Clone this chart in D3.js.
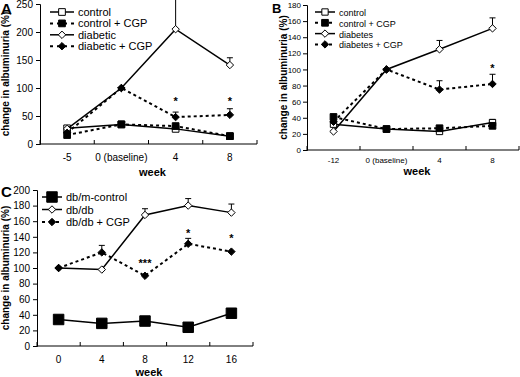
<!DOCTYPE html>
<html>
<head>
<meta charset="utf-8">
<script src="https://cdn.jsdelivr.net/npm/d3@7"></script>
<style>
  body { margin: 0; background: #fff; }
  text { font-family: "Liberation Sans", Arial, sans-serif; }
</style>
</head>
<body>
<div id="chart"></div>
<script>
// panel A
var weeksA = ["-5", "0 (baseline)", "4", "8"];
var controlA = [28, 35, 27, 14];
var controlCgpA = [16, 35, 32, 14];
var diabeticA = [27, 100, 205, 141];
var diabeticErrA = [null, null, 270, 154];
var diabeticCgpA = [20, 100, 48, 52];
var diabeticCgpErrA = [null, null, 57, 63];
var starsA = [null, null, "*", "*"];

// panel B
var weeksB = ["-12", "0 (baseline)", "4", "8"];
var controlB = [32, 26, 23, 34];
var controlErrB = [null, null, null, 38];
var controlCgpB = [41, 26, 27, 30];
var diabetesB = [23, 100, 125, 151];
var diabetesErrB = [null, null, 136, 164];
var diabetesCgpB = [35, 100, 75, 82];
var diabetesCgpErrB = [null, null, 86, 94];
var starsB = [null, null, null, "*"];

// panel C
var weeksC = ["0", "4", "8", "12", "16"];
var dbmC = [34, 29, 32, 24, 42];
var dbdbC = [100, 98, 168, 180, 171];
var dbdbErrC = [null, null, 176, 189, 182];
var dbdbCgpC = [100, 120, 90, 131, 121];
var dbdbCgpErrC = [null, 129, null, 138, null];
var starsC = [null, null, "***", "*", "*"];

var svg = d3.select("#chart").append("svg")
  .attr("width", 520)
  .attr("height", 377);

function symbolFor(shape, size) {
  var type = shape == "square" ? d3.symbolSquare : d3.symbolDiamond2;
  return d3.symbol().type(type).size(size);
}

function drawPanel(p) {
  var g = svg.append("g");
  var x = d3.scaleBand().domain(p.cats).range([p.x0, p.x1]);
  var y = d3.scaleLinear().domain([0, p.ymax]).range([p.y0, p.y1]);
  var cx = function(i) { return x(p.cats[i]) + x.bandwidth() / 2; };

  // y axis
  var ya = g.append("g")
    .attr("transform", "translate(" + p.x0 + ",0)")
    .call(d3.axisLeft(y).tickValues(d3.range(0, p.ymax + 1, p.step)).tickSize(4).tickPadding(p.tickPad));
  ya.select(".domain").attr("stroke", "#000");
  ya.selectAll("text").attr("font-size", p.tickFont).attr("fill", "#000");

  // x axis, ticks point up between categories
  var xa = g.append("g").attr("transform", "translate(0," + p.y0 + ")");
  xa.append("line").attr("x1", p.x0).attr("x2", p.x1).attr("stroke", "#000");
  xa.selectAll(".tk").data(d3.range(p.cats.length + 1)).enter().append("line")
    .attr("x1", function(i) { return p.x0 + i * x.step(); })
    .attr("x2", function(i) { return p.x0 + i * x.step(); })
    .attr("y1", 0).attr("y2", -4).attr("stroke", "#000");
  xa.selectAll(".lb").data(p.cats).enter().append("text")
    .attr("x", function(d, i) { return cx(i); })
    .attr("y", p.tickY)
    .attr("text-anchor", "middle")
    .attr("font-size", p.tickFont)
    .text(function(d) { return d; });

  g.append("text")
    .attr("x", (p.x0 + p.x1) / 2 + 4).attr("y", p.y0 + p.weekDy)
    .attr("text-anchor", "middle").attr("font-weight", "bold").attr("font-size", 11)
    .text("week");

  g.append("text")
    .attr("transform", "translate(" + p.ylabX + "," + (p.y0 + p.y1) / 2 + ") rotate(-90)")
    .attr("text-anchor", "middle").attr("font-weight", "bold").attr("font-size", 10)
    .text("change in albuminuria (%)");

  g.append("text")
    .attr("x", p.labX).attr("y", p.labY)
    .attr("font-weight", "bold").attr("font-size", p.labFont)
    .text(p.label);

  var line = d3.line()
    .x(function(d, i) { return cx(i); })
    .y(function(d) { return y(d); });

  p.series.forEach(function(s) {
    // error bars (upward only)
    if (s.err) {
      s.err.forEach(function(e, i) {
        if (e == null) return;
        g.append("line").attr("x1", cx(i)).attr("x2", cx(i))
          .attr("y1", y(s.values[i])).attr("y2", y(e)).attr("stroke", "#000");
        g.append("line").attr("x1", cx(i) - 3).attr("x2", cx(i) + 3)
          .attr("y1", y(e)).attr("y2", y(e)).attr("stroke", "#000");
      });
    }
    g.append("path").datum(s.values)
      .attr("d", line)
      .attr("fill", "none")
      .attr("stroke", "#000")
      .attr("stroke-width", s.dashed ? 2 : 1.5)
      .attr("stroke-dasharray", s.dashed ? "3,3" : null);
    g.selectAll(null).data(s.values).enter().append("path")
      .attr("transform", function(d, i) { return "translate(" + cx(i) + "," + y(d) + ")"; })
      .attr("d", symbolFor(s.shape, s.size))
      .attr("fill", s.filled ? "#000" : "#fff")
      .attr("stroke", "#000")
      .attr("stroke-width", 1);
  });

  p.stars.forEach(function(st, i) {
    if (!st) return;
    g.append("text").attr("x", cx(i)).attr("y", y(p.starY[i]) + 5)
      .attr("text-anchor", "middle").attr("font-size", 11).attr("font-weight", "bold")
      .text(st);
  });

  // legend
  p.series.forEach(function(s, k) {
    var ly = p.legY + k * p.legDy;
    var lg = g.append("g");
    lg.append("line").attr("x1", p.legX).attr("x2", p.legX + p.legW)
      .attr("y1", ly).attr("y2", ly).attr("stroke", "#000")
      .attr("stroke-width", s.dashed ? 2 : 1.5)
      .attr("stroke-dasharray", s.dashed ? "3,4" : null);
    lg.append("path")
      .attr("transform", "translate(" + (p.legX + p.legW / 2) + "," + ly + ")")
      .attr("d", symbolFor(s.shape, s.size))
      .attr("fill", s.filled ? "#000" : "#fff")
      .attr("stroke", "#000");
    lg.append("text").attr("x", p.legX + p.legW + 4).attr("y", ly + 4)
      .attr("font-size", p.legFont)
      .text(s.name);
  });
}

drawPanel({
  label: "A", labX: 1, labY: 14, labFont: 15,
  cats: weeksA, x0: 40, x1: 257, y0: 144, y1: 4, ymax: 250, step: 50,
  tickFont: 10, tickPad: 3, tickY: 17, weekDy: 32, ylabX: 9,
  stars: starsA, starY: [null, null, 78, 78],
  legX: 50, legY: 12, legDy: 11.4, legW: 24, legFont: 11,
  series: [
    { name: "control", values: controlA, shape: "square", filled: false, size: 45 },
    { name: "control + CGP", values: controlCgpA, shape: "square", filled: true, dashed: true, size: 45 },
    { name: "diabetic", values: diabeticA, err: diabeticErrA, shape: "diamond", filled: false, size: 35 },
    { name: "diabetic + CGP", values: diabeticCgpA, err: diabeticCgpErrA, shape: "diamond", filled: true, dashed: true, size: 35 }
  ]
});

drawPanel({
  label: "B", labX: 272, labY: 13, labFont: 13,
  cats: weeksB, x0: 307, x1: 519, y0: 150, y1: 5, ymax: 180, step: 20,
  tickFont: 8, tickPad: 2, tickY: 13, weekDy: 25, ylabX: 287,
  stars: starsB, starY: [null, null, null, 103],
  legX: 315, legY: 12, legDy: 10.8, legW: 20, legFont: 9,
  series: [
    { name: "control", values: controlB, err: controlErrB, shape: "square", filled: false, size: 40 },
    { name: "control + CGP", values: controlCgpB, shape: "square", filled: true, dashed: true, size: 45 },
    { name: "diabetes", values: diabetesB, err: diabetesErrB, shape: "diamond", filled: false, size: 35 },
    { name: "diabetes + CGP", values: diabetesCgpB, err: diabetesCgpErrB, shape: "diamond", filled: true, dashed: true, size: 35 }
  ]
});

drawPanel({
  label: "C", labX: 1, labY: 197, labFont: 15,
  cats: weeksC, x0: 37, x1: 253, y0: 346, y1: 190, ymax: 200, step: 20,
  tickFont: 10, tickPad: 3, tickY: 17, weekDy: 30, ylabX: 9,
  stars: starsC, starY: [null, null, 108, 146, 140],
  legX: 42, legY: 197, legDy: 12.5, legW: 20, legFont: 11,
  series: [
    { name: "db/m-control", values: dbmC, shape: "square", filled: true, size: 110 },
    { name: "db/db", values: dbdbC, err: dbdbErrC, shape: "diamond", filled: false, size: 35 },
    { name: "db/db + CGP", values: dbdbCgpC, err: dbdbCgpErrC, shape: "diamond", filled: true, dashed: true, size: 35 }
  ]
});
</script>
</body>
</html>
